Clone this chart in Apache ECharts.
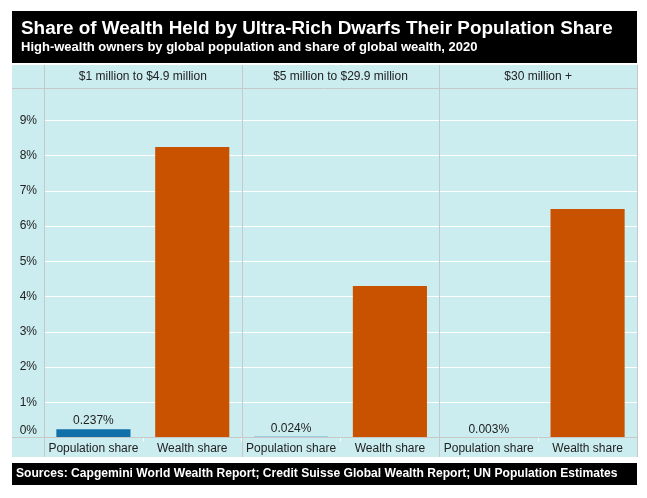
<!DOCTYPE html>
<html>
<head>
<meta charset="utf-8">
<script src="https://cdn.jsdelivr.net/npm/echarts@6/dist/echarts.min.js"></script>
<style>
  html, body { margin: 0; padding: 0; background: #fff; }
  #main { width: 647px; height: 498px; }
</style>
</head>
<body>
<div id="main"></div>
<script>
const categories = ['Population share', 'Wealth share'];
const brackets = ['$1 million to $4.9 million', '$5 million to $29.9 million', '$30 million +'];
const populationShare = [0.237, 0.024, 0.003];
const wealthShare = [8.24, 4.30, 6.48];
const yTicks = [0, 1, 2, 3, 4, 5, 6, 7, 8, 9];

const myChart = echarts.init(document.getElementById('main'));

const font = '"Liberation Sans", Arial, Helvetica, sans-serif';
const panelLeft = 44, panelRight = 637, plotTop = 88, plotBottom = 437.5;
const facetW = (panelRight - panelLeft) / brackets.length;
const lineCol = '#c8c8c8';

const grids = [], xAxes = [], yAxes = [], series = [];
brackets.forEach((b, i) => {
    grids.push({ left: panelLeft + i * facetW, width: facetW, top: plotTop, height: plotBottom - plotTop });
    xAxes.push({
        type: 'category', gridIndex: i, data: categories,
        axisLine: { show: false },
        axisTick: { show: true, length: 4, lineStyle: { color: '#ffffff' } },
        axisLabel: { interval: 0, color: '#222', fontSize: 12, fontFamily: font, margin: 5 }
    });
    yAxes.push({
        type: 'value', gridIndex: i, min: 0, max: 9.915, interval: 1,
        axisLine: { show: false }, axisTick: { show: false },
        splitLine: { lineStyle: { color: '#ffffff', width: 1 } },
        axisLabel: {
            show: i === 0, color: '#222', fontSize: 12, fontFamily: font, margin: 7,
            formatter: v => yTicks.indexOf(v) < 0 ? '' : (v === 0 ? '{z|0%}' : v + '%'),
            rich: { z: { fontSize: 12, fontFamily: font, color: '#222', padding: [0, 0, 14, 0] } }
        }
    });
    series.push({
        type: 'bar', xAxisIndex: i, yAxisIndex: i, barWidth: '75%',
        data: [
            {
                value: populationShare[i], itemStyle: { color: '#1170aa' },
                label: { show: true, position: 'top', distance: 2, formatter: '{c}%', color: '#222', fontSize: 12, fontFamily: font }
            },
            { value: wealthShare[i], itemStyle: { color: '#c85200' } }
        ]
    });
});

const graphic = [
    { type: 'rect', z: -10, shape: { x: 12, y: 11, width: 625, height: 52 }, style: { fill: '#000' } },
    { type: 'rect', z: -10, shape: { x: 12, y: 65, width: 625, height: 392 }, style: { fill: '#cbedf0' } },
    { type: 'rect', z: 10, shape: { x: 12, y: 463, width: 625, height: 22 }, style: { fill: '#000' } },
    {
        type: 'text', z: 11, x: 16, y: 474,
        style: {
            text: 'Sources: Capgemini World Wealth Report; Credit Suisse Global Wealth Report; UN Population Estimates',
            fill: '#fff', font: 'bold 12.1px ' + font, textVerticalAlign: 'middle'
        }
    },
    { type: 'line', z: 10, shape: { x1: 12, y1: 88.5, x2: 637, y2: 88.5 }, style: { stroke: lineCol, lineWidth: 1 } },
    { type: 'line', z: 10, shape: { x1: 12, y1: 437.5, x2: 637, y2: 437.5 }, style: { stroke: lineCol, lineWidth: 1 } }
];
for (let i = 0; i <= brackets.length; i++) {
    const x = Math.round(panelLeft + i * facetW) + 0.5;
    graphic.push({ type: 'line', z: 10, shape: { x1: x, y1: 65, x2: x, y2: 457 }, style: { stroke: lineCol, lineWidth: 1 } });
}
brackets.forEach((b, i) => {
    graphic.push({
        type: 'text', z: 11, x: panelLeft + (i + 0.5) * facetW, y: 76.5,
        style: { text: b, fill: '#222', font: '12px ' + font, textAlign: 'center', textVerticalAlign: 'middle' }
    });
});

const option = {
    title: {
        text: 'Share of Wealth Held by Ultra-Rich Dwarfs Their Population Share',
        subtext: 'High-wealth owners by global population and share of global wealth, 2020',
        left: 21, top: 19, itemGap: 3, padding: 0,
        textStyle: { color: '#fff', fontSize: 18.9, fontWeight: 'bold', fontFamily: font },
        subtextStyle: { color: '#fff', fontSize: 13, fontWeight: 'bold', fontFamily: font }
    },
    animation: false,
    grid: grids,
    xAxis: xAxes,
    yAxis: yAxes,
    series: series,
    graphic: graphic
};

myChart.setOption(option);
</script>
</body>
</html>
